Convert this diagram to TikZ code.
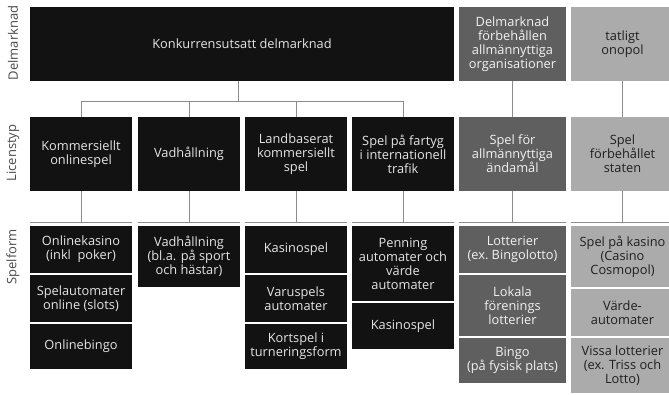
\documentclass[tikz,border=0pt]{standalone}
\usepackage{fontspec}
\setmainfont{Open Sans}
\definecolor{cblk}{HTML}{121212}
\definecolor{cdgr}{HTML}{5F5F5F}
\definecolor{clgr}{HTML}{ABABAB}
\definecolor{cline}{HTML}{8C8C8C}
\definecolor{clbl}{HTML}{4A4A4A}
\tikzset{
  bx/.style={inner sep=0pt, align=center, font=\fontsize{12.8}{14}\selectfont},
  blk/.style={bx, fill=cblk, text=white!90!black},
  dgr/.style={bx, fill=cdgr, text=white!95!black},
  lgr/.style={bx, fill=clgr, text=black!88},
  conn/.style={draw=cline, line width=0.9pt},
  axlbl/.style={rotate=90, text=clbl, font=\fontsize{13}{14}\selectfont, inner sep=0pt}
}
\begin{document}
\begin{tikzpicture}[x=1pt,y=-1pt]
\useasboundingbox (0,0) rectangle (669,394);
\begin{scope}
\clip (0,0) rectangle (669,394);
% axis labels
\node[axlbl] (ax1) at (13,43) {Delmarknad};
\node[axlbl] (ax2) at (13,153) {Licenstyp};
\node[axlbl] (ax3) at (13,257) {Spelform};
% top row
\node[blk, minimum width=424pt, minimum height=74pt] (t1) at (242,44) {Konkurrensutsatt delmarknad};
\node[dgr, minimum width=107pt, minimum height=74pt] (t2) at (512.5,44) {Delmarknad\\förbehållen\\allmännyttiga\\organisationer};
\node[lgr, minimum width=103pt, minimum height=74pt] (t3) at (622.5,44) {tatligt\\onopol};
% licenstyp
\node[blk, minimum width=102pt, minimum height=74pt] (l1) at (81,154) {Kommersiellt\\onlinespel};
\node[blk, minimum width=102pt, minimum height=74pt] (l2) at (189,154) {Vadhållning};
\node[blk, minimum width=102pt, minimum height=74pt] (l3) at (296,154) {Landbaserat\\kommersiellt\\spel};
\node[blk, minimum width=102pt, minimum height=74pt] (l4) at (403,154) {Spel på fartyg\\i internationell\\trafik};
\node[dgr, minimum width=107pt, minimum height=74pt] (l5) at (512.5,154) {Spel för\\allmännyttiga\\ändamål};
\node[lgr, minimum width=103pt, minimum height=74pt] (l6) at (622.5,154) {Spel\\förbehållet\\staten};
% spelform col1
\node[blk, minimum width=102pt, minimum height=47pt] (s11) at (81,249.5) {Onlinekasino\\(inkl\ \ poker)};
\node[blk, minimum width=102pt, minimum height=47pt] (s12) at (81,298.5) {Spelautomater\\online (slots)};
\node[blk, minimum width=102pt, minimum height=45pt] (s13) at (81,346.5) {Onlinebingo};
% col2
\node[blk, minimum width=102pt, minimum height=61pt] (s21) at (189,256.5) {Vadhållning\\(bl.a. på sport\\och hästar)};
% col3
\node[blk, minimum width=102pt, minimum height=47pt] (s31) at (296,249.5) {Kasinospel};
\node[blk, minimum width=102pt, minimum height=47pt] (s32) at (296,298.5) {Varuspels\\automater};
\node[blk, minimum width=102pt, minimum height=45pt] (s33) at (296,346.5) {Kortspel i\\turneringsform};
% col4
\node[blk, minimum width=102pt, minimum height=75pt] (s41) at (403,263.5) {Penning\\automater och\\värde\\automater};
\node[blk, minimum width=102pt, minimum height=46pt] (s42) at (403,326) {Kasinospel};
% col5
\node[dgr, minimum width=107pt, minimum height=47pt] (s51) at (512.5,249.5) {Lotterier\\(ex.\ Bingolotto)};
\node[dgr, minimum width=107pt, minimum height=61pt] (s52) at (512.5,305.5) {Lokala\\förenings\\lotterier};
\node[dgr, minimum width=107pt, minimum height=45pt] (s53) at (512.5,360.5) {Bingo\\(på fysisk plats)};
% col6
\node[lgr, minimum width=103pt, minimum height=61pt] (s61) at (622.5,256.5) {Spel på kasino\\(Casino\\Cosmopol)};
\node[lgr, minimum width=103pt, minimum height=47pt] (s62) at (622.5,312.5) {Värde-\\automater};
\node[lgr, minimum width=103pt, minimum height=55pt] (s63) at (622.5,365.5) {Vissa lotterier\\(ex. Triss och\\Lotto)};
% connectors top
\coordinate (j0) at (238,101);
\draw[conn] (t1.south -| j0) -- (j0);
\draw[conn] (l1.north) |- (j0);
\draw[conn] (l4.north) |- (j0);
\draw[conn] (l2.north) -- (l2.north |- j0);
\draw[conn] (l3.north) -- (l3.north |- j0);
\draw[conn] (t2.south) -- (l5.north);
\draw[conn] (t3.south) -- (l6.north);
% connectors to spelform
\foreach \c/\s in {l1/s11,l2/s21,l3/s31,l4/s41,l5/s51,l6/s61}{
  \coordinate (m\c) at ([yshift=3.5pt]\s.north);
  \draw[conn] (\c.south) -- (m\c);
  \draw[conn] ([yshift=3.5pt]\s.north west) -- ([yshift=3.5pt]\s.north east);
}
\end{scope}
\end{tikzpicture}
\end{document}
